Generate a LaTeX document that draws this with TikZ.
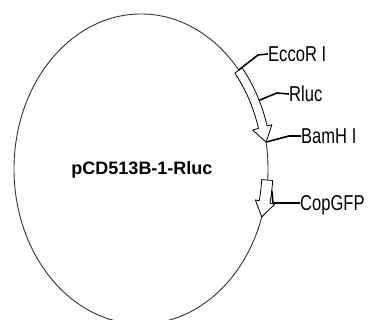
\documentclass[tikz,border=0pt]{standalone}
\usepackage{fontspec}
\setmainfont{Liberation Sans}
\newfontfamily\narrowfont[FakeStretch=0.77]{Liberation Sans}

\tikzset{
    site/.style={font=\narrowfont\fontsize{21.5}{24}\selectfont, anchor=west, inner sep=0pt, text height=15.5pt, text depth=0pt},
    leader/.style={line width=1.6pt, black},
    gene/.style={draw=black, fill=white, line width=0.8pt, line join=round}
}

\begin{document}
\begin{tikzpicture}[x=1pt,y=1pt]
    \useasboundingbox (0,0) rectangle (369,320);
    \clip (0,0) rectangle (369,320);

    \draw[black!80, line width=0.9pt] (141,151) ellipse [x radius=127, y radius=155];

    % Rluc
    \draw[gene] plot[domain=39.7:15.7, samples=20] ({141+131*cos(\x)},{151+159*sin(\x)})
        -- ({141+136*cos(15.7)},{151+164*sin(15.7)})
        -- ({141+127*cos(10)},{151+155*sin(10)})
        -- ({141+116*cos(15.7)},{151+144*sin(15.7)})
        -- plot[domain=15.7:39.7, samples=20] ({141+122*cos(\x)},{151+150*sin(\x)})
        -- cycle;

    % CopGFP
    \draw[gene] plot[domain=-4.1:-12.3, samples=10] ({141+132*cos(\x)},{151+160*sin(\x)})
        -- ({141+137*cos(-12.3)},{151+165*sin(-12.3)})
        -- ({141+127*cos(-18)},{151+155*sin(-18)})
        -- ({141+117*cos(-12.3)},{151+145*sin(-12.3)})
        -- plot[domain=-12.3:-4.1, samples=10] ({141+121*cos(\x)},{151+149*sin(\x)})
        -- cycle;

    \coordinate (ecoTop) at ({141+127*cos(39.7)},{151+155*sin(39.7)});
    \coordinate (rlucSide) at ({141+131*cos(25.6)},{151+159*sin(25.6)});
    \coordinate (rlucTip) at ({141+127*cos(10)},{151+155*sin(10)});
    \coordinate (copSide) at ({141+132*cos(-7.8)},{151+160*sin(-7.8)});

    \node[site] (ecori) at (268,266) {EccoR I};
    \node[site] (rluc) at (289,226) {Rluc};
    \node[site] (bamhi) at (301,184) {BamH I};
    \node[site] (copgfp) at (300,117) {CopGFP};
    \node[font=\bfseries\fontsize{18}{20}\selectfont] (plasmid) at (142,150) {pCD513B-1-Rluc};

    \draw[leader] (ecoTop) -- (258,265) -- (ecori.west);
    \draw[leader] (rlucSide) -- (277,227) -- (rluc.west);
    \draw[leader] (rlucTip) -- (289,184) -- (bamhi.west);
    \draw[leader] (copSide) -- (273,117) -- (copgfp.west);
\end{tikzpicture}
\end{document}
